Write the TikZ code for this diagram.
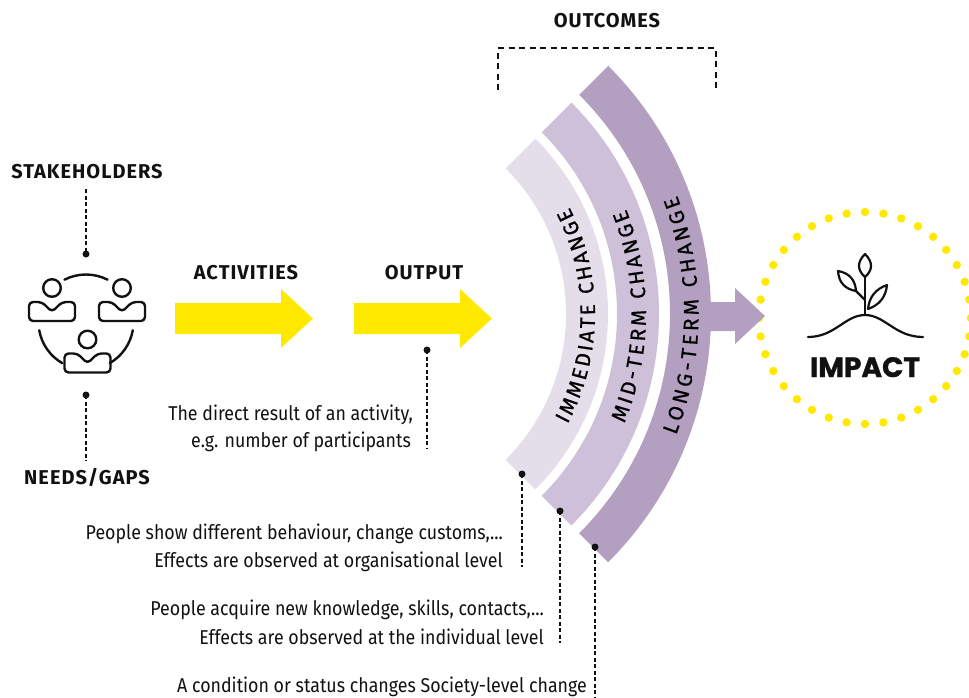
\documentclass[tikz,border=0pt]{standalone}
\usepackage{fontspec}
\setmainfont{Fira Sans}
\newfontfamily\bodyfont{Fira Sans}[FakeStretch=0.89]
\newfontfamily\headfont{Fira Sans}[LetterSpace=5]
\newfontfamily\arcfont{Fira Sans}[FakeBold=0.6]
\newfontfamily\impactfont{Poppins}[BoldFeatures={FakeBold=1}]
\usetikzlibrary{decorations.text}
\definecolor{ylw}{HTML}{FFE900}
\definecolor{bandA}{HTML}{E4DEEA}
\definecolor{bandB}{HTML}{CEC0D8}
\definecolor{bandC}{HTML}{B3A0C1}
\definecolor{ink}{HTML}{111111}
\tikzset{
  head/.style={font={\headfont\bfseries\fontsize{20}{23}\selectfont}, text=ink, inner sep=0pt, anchor=base},
  body/.style={font={\bodyfont\fontsize{20}{24}\selectfont}, text=ink, inner sep=0pt, anchor=base east},
  conn/.style={draw=ink, line width=1.2pt, dash pattern=on 4pt off 2.5pt},
  bracket/.style={draw=ink, line width=2.2pt, dash pattern=on 6pt off 4.5pt},
  dotn/.style={circle, fill=ink, inner sep=0pt, minimum size=7pt},
  icon/.style={draw=ink, line width=2.4pt, line cap=round, line join=round},
  arclabel/.style={decorate, decoration={text along path, text align={fit to path}, text={|\arcfont\fontsize{21}{23}\selectfont|#1}}},
  person/.pic={
    \draw[icon] (0,0) circle[radius=8.8];
    \draw[icon, rounded corners=4pt] (-10,14) -- (0,24) -- (10,14) -- (23,14) -- (23,33) -- (-23,33) -- (-23,14) -- cycle;
  }
}
\begin{document}
\begin{tikzpicture}[x=1pt, y=-1pt]
\useasboundingbox (0,0) rectangle (969,697);

% ---------- left: stakeholders icon ----------
\node[head] (sh) at (87,178) {STAKEHOLDERS};
\coordinate (shc) at (86,189);
\node[dotn] (d1) at (86,254) {};
\draw[conn] (shc) -- (d1.center);

\begin{scope}[shift={(86,322)}]
  \draw[icon] (-63:47.5) arc[start angle=-63, end angle=-117, radius=47.5];
  \draw[icon] (-190:47.5) arc[start angle=-190, end angle=-240, radius=47.5];
  \draw[icon] (-300:47.5) arc[start angle=-300, end angle=-350, radius=47.5];
\end{scope}
\pic at (52,288) {person};
\pic at (122,288) {person};
\pic at (87.5,339.5) {person};

\node[dotn] (d2) at (86,395) {};
\coordinate (ngc) at (86,461);
\draw[conn] (d2.center) -- (ngc);
\node[head] (ng) at (87,484) {NEEDS/GAPS};

% ---------- activities / output ----------
\node[head] (act) at (246,279) {ACTIVITIES};
\node[head] (outp) at (424,279) {OUTPUT};
\fill[ylw] (175,303) -- (281,303) -- (281,289) -- (313,318.5) -- (281,348) -- (281,334) -- (175,334) -- cycle;
\fill[ylw] (354,303) -- (460,303) -- (460,289) -- (492,318.5) -- (460,348) -- (460,334) -- (354,334) -- cycle;

\node[dotn] (d3) at (427,350) {};
\coordinate (d3e) at (427,448);
\draw[conn] (d3.center) -- (d3e);
\node[body] (o1) at (413,420) {The direct result of an activity,};
\node[body] (o2) at (411,447) {e.g. number of participants};

% ---------- outcomes ----------
\node[head] (oc) at (607,27) {OUTCOMES};
\coordinate (b1) at (498,90);
\coordinate (b2) at (498,48);
\coordinate (b3) at (716,48);
\coordinate (b4) at (716,90);
\draw[bracket] (b1) -- (b2) -- (b3) -- (b4);

% impact dots (drawn before the arrow)
\foreach \a in {0,10,...,350}
  \fill[ylw] ({865+106*cos(\a)},{318+106*sin(\a)}) circle[radius=4.2];

\begin{scope}[shift={(360,314)}]
  \fill[bandA] (45:248) arc[start angle=45, end angle=-45, radius=248] -- (-45:206) arc[start angle=-45, end angle=45, radius=206] -- cycle;
  \fill[bandB] (45:299) arc[start angle=45, end angle=-45, radius=299] -- (-45:257) arc[start angle=-45, end angle=45, radius=257] -- cycle;
  \fill[bandC] (45:351) arc[start angle=45, end angle=-45, radius=351] -- (-45:310) arc[start angle=-45, end angle=45, radius=310] -- cycle;
  \path[arclabel={IMMEDIATE CHANGE}] (28:235) arc[start angle=28, end angle=-27, radius=235];
  \path[arclabel={MID-TERM CHANGE}] (22.5:286) arc[start angle=22.5, end angle=-21.5, radius=286];
  \path[arclabel={LONG-TERM CHANGE}] (21:338.5) arc[start angle=21, end angle=-20.5, radius=338.5];
\end{scope}

\fill[bandC] (704,302) -- (735,302) -- (735,288) -- (765,316) -- (735,344) -- (735,331) -- (704,331) -- cycle;

% outcome connectors
\node[dotn] (d4) at (522,474) {};
\coordinate (d4e) at (522,567);
\draw[conn] (d4.center) -- (d4e);
\node[dotn] (d5) at (560,511) {};
\coordinate (d5e) at (560,643);
\draw[conn] (d5.center) -- (d5e);
\node[dotn] (d6) at (595,547) {};
\coordinate (d6e) at (595,697);
\draw[conn] (d6.center) -- (d6e);

\node[body] (i1) at (503,539) {People show different behaviour, change customs,...};
\node[body] (i2) at (503,567) {Effects are observed at organisational level};
\node[body] (m1) at (544,615) {People acquire new knowledge, skills, contacts,...};
\node[body] (m2) at (544,644) {Effects are observed at the individual level};
\node[body] (l1) at (587,692) {A condition or status changes Society-level change};

% ---------- impact ----------
\draw[icon, line width=2.2pt] (808,337) .. controls (835,337) and (845,315) .. (865,315) .. controls (885,315) and (895,337) .. (923,337);
\draw[icon, line width=2.2pt] (865,315) -- (865,277);
\draw[icon, line width=2.2pt] (865,277) .. controls (857,270) and (857,262) .. (865,254) .. controls (873,262) and (873,270) .. (865,277);
\draw[icon, line width=2.2pt] (865,300) -- (856,291);
\draw[icon, line width=2.2pt] (856,291) .. controls (855.2,279.6) and (849.2,273) .. (838,271) .. controls (838.8,282.4) and (844.8,289) .. (856,291);
\draw[icon, line width=2.2pt] (868,309) .. controls (869.2,297) and (875.6,289) .. (887,285) .. controls (885.8,297) and (879.4,305) .. (868,309);
\node[font={\impactfont\bfseries\fontsize{28}{30}\selectfont}, text=ink, inner sep=0pt, anchor=base] (imp) at (865,377) {IMPACT};
\end{tikzpicture}
\end{document}
